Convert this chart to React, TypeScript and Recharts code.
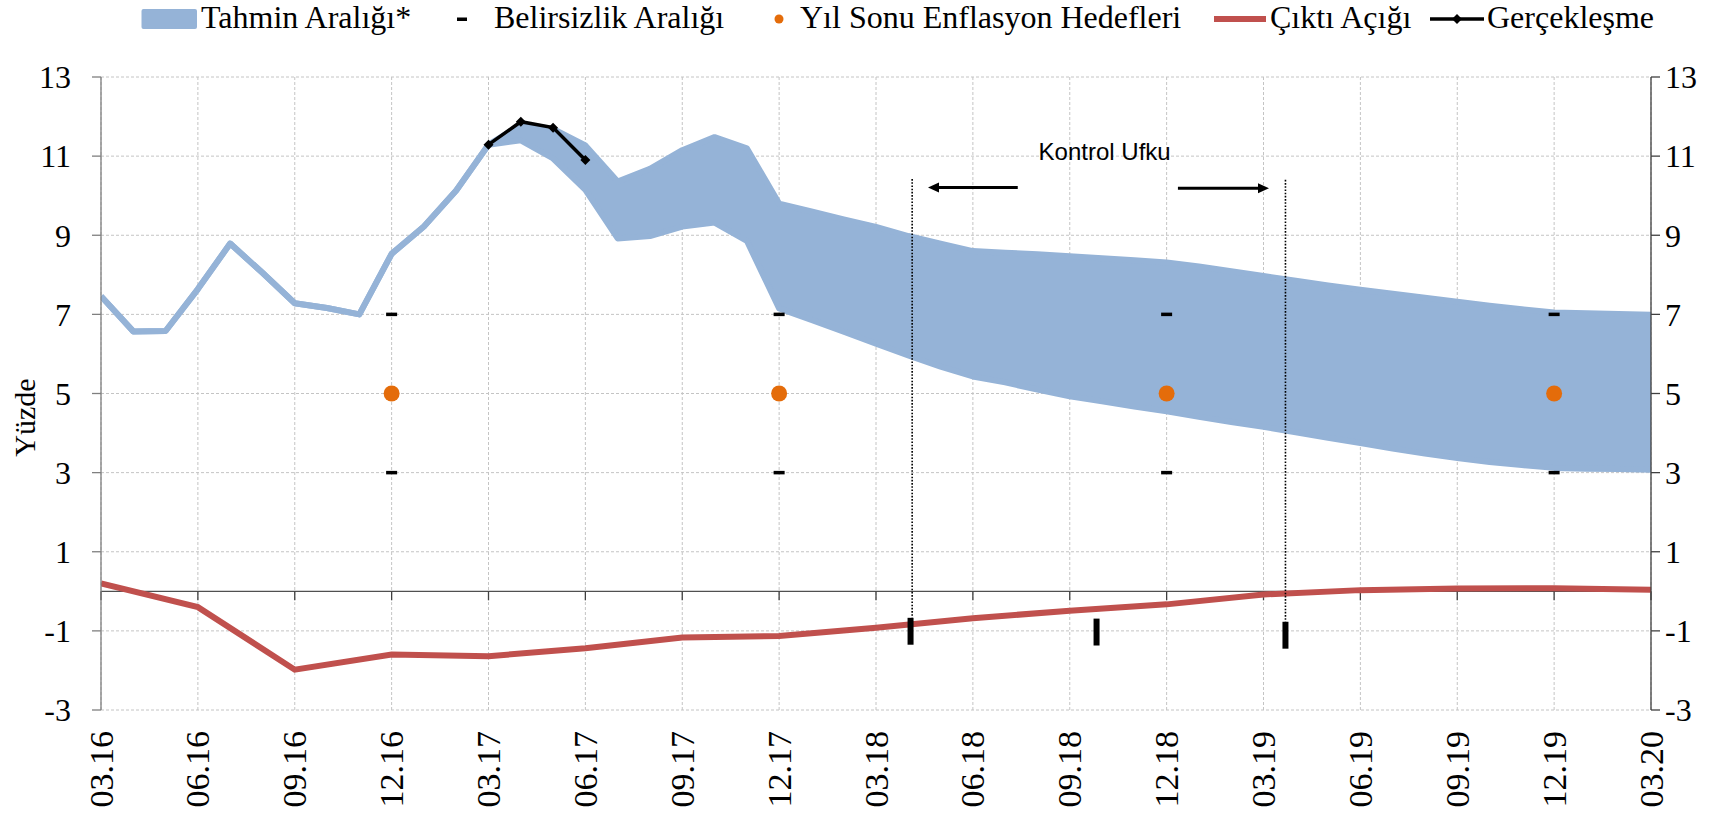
import React from 'react';
import {
  ComposedChart, Area, Line, Scatter, XAxis, YAxis, CartesianGrid,
  ReferenceLine, ReferenceDot, Legend,
} from 'recharts';

// ---------- categories ----------
const months = [
  '03.16','04.16','05.16','06.16','07.16','08.16','09.16','10.16','11.16','12.16',
  '01.17','02.17','03.17','04.17','05.17','06.17','07.17','08.17','09.17','10.17','11.17','12.17',
  '01.18','02.18','03.18','04.18','05.18','06.18','07.18','08.18','09.18','10.18','11.18','12.18',
  '01.19','02.19','03.19','04.19','05.19','06.19','07.19','08.19','09.19','10.19','11.19','12.19',
  '01.20','02.20','03.20',
];
const xTickMonths = [
  '03.16','06.16','09.16','12.16','03.17','06.17','09.17','12.17',
  '03.18','06.18','09.18','12.18','03.19','06.19','09.19','12.19','03.20',
];
const yTicks = [-3, -1, 1, 3, 5, 7, 9, 11, 13];

// ---------- series ----------
const bandLow = [
  7.46, 6.57, 6.58, 7.64, 8.79, 8.05, 7.28, 7.16, 7.00, 8.53,
  9.22, 10.13, 11.29, 11.40, 10.94, 10.15, 8.92, 8.98, 9.22, 9.32, 8.86, 7.15,
  6.86, 6.56, 6.26, 5.96, 5.68, 5.43, 5.28, 5.10, 4.93, 4.80, 4.67, 4.55,
  4.41, 4.28, 4.16, 4.02, 3.88, 3.75, 3.61, 3.48, 3.37, 3.27, 3.19, 3.12,
  3.10, 3.09, 3.07,
];
const bandHigh = [
  7.46, 6.57, 6.58, 7.64, 8.79, 8.05, 7.28, 7.16, 7.00, 8.53,
  9.22, 10.13, 11.29, 11.78, 11.69, 11.27, 10.36, 10.68, 11.15, 11.48, 11.20, 9.80,
  9.60, 9.40, 9.21, 8.98, 8.79, 8.60, 8.56, 8.52, 8.47, 8.42, 8.37, 8.31,
  8.21, 8.09, 7.97, 7.85, 7.73, 7.62, 7.52, 7.42, 7.32, 7.22, 7.13, 7.05,
  7.03, 7.01, 6.99,
];
const actualMonths = ['03.17', '04.17', '05.17', '06.17'];
const actualValues = [11.29, 11.87, 11.72, 10.90];
const outputGapMonths = xTickMonths;
const outputGapValues = [
  0.20, -0.40, -1.98, -1.60, -1.64, -1.44, -1.17, -1.13,
  -0.92, -0.68, -0.49, -0.33, -0.08, 0.03, 0.07, 0.08, 0.04,
];
const targetMonths = ['12.16', '12.17', '12.18', '12.19'];
const targetValues = [5, 5, 5, 5];
const uncertaintyUpper = [7, 7, 7, 7];
const uncertaintyLower = [3, 3, 3, 3];

// ---------- annotations (in data units: month index / percent) ----------
const horizonLines = [
  { x: 25.12, top: 10.42, bottom: -0.67 },
  { x: 36.68, top: 10.40, bottom: -0.77 },
];
const horizonMarkers = [
  { x: 25.07, top: -0.67, bottom: -1.35 },
  { x: 30.83, top: -0.69, bottom: -1.37 },
  { x: 36.68, top: -0.77, bottom: -1.45 },
];
const horizonArrows = [
  { from: 28.39, to: 25.61, y: 10.21 },
  { from: 33.35, to: 36.17, y: 10.19 },
];
const horizonLabel = { text: 'Kontrol Ufku', x: 31.08, y: 10.89 };

// ---------- styles ----------
const BLUE = '#95B3D7';
const RED = '#C0504D';
const ORANGE = '#E46C0A';
const SERIF = '"Liberation Serif", "Times New Roman", serif';
const SANS = '"Liberation Sans", Arial, sans-serif';

const idx = (m: string) => months.indexOf(m);

const rows = months.map((m, i) => {
  const a = actualMonths.indexOf(m);
  const g = outputGapMonths.indexOf(m);
  return {
    i,
    band: [bandLow[i], bandHigh[i]],
    actual: a >= 0 ? actualValues[a] : null,
    gap: g >= 0 ? outputGapValues[g] : null,
  };
});
const targetData = targetMonths.map((m, k) => ({ i: idx(m), v: targetValues[k] }));
const uncertaintyData = [
  ...targetMonths.map((m, k) => ({ i: idx(m), v: uncertaintyUpper[k] })),
  ...targetMonths.map((m, k) => ({ i: idx(m), v: uncertaintyLower[k] })),
];
const quarterIdx = xTickMonths.map(idx);

const XTick = (props: any) => {
  const { x, y, payload } = props;
  return (
    <text
      transform={`translate(${x},${y + 21}) rotate(-90)`}
      textAnchor="end"
      dominantBaseline="central"
      fontSize={34}
      fontFamily={SERIF}
      fill="#000"
    >
      {months[payload.value]}
    </text>
  );
};

const YLabel = (props: any) => {
  const vb = props.viewBox || { x: 0, y: 77, width: 101, height: 633 };
  return (
    <text
      transform={`translate(35,${vb.y + vb.height / 2 + 24}) rotate(-90)`}
      textAnchor="middle"
      fontSize={30}
      fontFamily={SERIF}
      fill="#000"
    >
      Yüzde
    </text>
  );
};

const ArrowShape = (p: any) => {
  const { x1, y1, x2, y2 } = p;
  const dx = x2 - x1;
  const dy = y2 - y1;
  const len = Math.hypot(dx, dy) || 1;
  const ux = dx / len;
  const uy = dy / len;
  const head = 11;
  const half = 5;
  const bx = x2 - ux * head;
  const by = y2 - uy * head;
  return (
    <g>
      <line x1={x1} y1={y1} x2={bx + ux} y2={by + uy} stroke="#000" strokeWidth={3} />
      <polygon
        points={`${x2},${y2} ${bx - uy * half},${by + ux * half} ${bx + uy * half},${by - ux * half}`}
        fill="#000"
      />
    </g>
  );
};

const ZeroTick = (p: any) => (
  <line x1={p.x1} y1={p.y1} x2={p.x1} y2={p.y1 + 9} stroke="#404040" strokeWidth={1.3} />
);

const Diamond = (p: any) => {
  const { cx, cy } = p;
  if (cx == null || cy == null || p.value == null) return <g />;
  const s = 5;
  return <polygon points={`${cx},${cy - s} ${cx + s},${cy} ${cx},${cy + s} ${cx - s},${cy}`} fill="#000" />;
};

const TargetDot = (p: any) => <circle cx={p.cx} cy={p.cy} r={8} fill={ORANGE} />;
const UncDash = (p: any) => <rect x={p.cx - 5.5} y={p.cy - 1.75} width={11} height={3.5} fill="#000" />;

const LegendContent = () => {
  const t = { fontSize: 32, fontFamily: SERIF, fill: '#000' };
  return (
    <svg width={1734} height={45} style={{ display: 'block' }}>
      <rect x={141.5} y={9} width={55.5} height={20} rx={2} fill={BLUE} />
      <text x={201} y={28} {...t}>Tahmin Aralığı*</text>
      <rect x={457} y={17.5} width={10} height={3.5} fill="#000" />
      <text x={494} y={28} {...t}>Belirsizlik Aralığı</text>
      <circle cx={779} cy={19} r={4.5} fill={ORANGE} />
      <text x={800} y={28} {...t}>Yıl Sonu Enflasyon Hedefleri</text>
      <line x1={1214} y1={19} x2={1266} y2={19} stroke={RED} strokeWidth={6} />
      <text x={1270} y={28} {...t}>Çıktı Açığı</text>
      <line x1={1430} y1={19} x2={1484} y2={19} stroke="#000" strokeWidth={3.5} />
      <polygon points="1457,14 1462,19 1457,24 1452,19" fill="#000" />
      <text x={1487} y={28} {...t}>Gerçekleşme</text>
    </svg>
  );
};

export default function App() {
  return (
    <div style={{ position: 'absolute', left: 0, top: 0, background: '#fff' }}>
      <ComposedChart
        width={1734}
        height={813}
        data={rows}
        margin={{ top: 32, right: 0, bottom: 0, left: 0 }}
      >
        <Legend
          verticalAlign="top"
          align="left"
          height={45}
          wrapperStyle={{ top: 0, left: 0, width: 1734, height: 45 }}
          content={() => <LegendContent />}
        />
        <CartesianGrid
          yAxisId="left"
          stroke="#c4c4c4"
          strokeDasharray="3 2"
          strokeWidth={1}
        />
        <XAxis
          type="number"
          dataKey="i"
          domain={[0, 48]}
          ticks={quarterIdx}
          interval={0}
          height={103}
          tickSize={0}
          tickMargin={0}
          axisLine={false}
          tickLine={false}
          tick={<XTick />}
          allowDataOverflow
        />
        <YAxis
          yAxisId="left"
          domain={[-3, 13]}
          ticks={yTicks}
          interval={0}
          width={101}
          tickSize={9}
          tickMargin={21}
          axisLine={{ stroke: '#7f7f7f', strokeWidth: 1.3 }}
          tickLine={{ stroke: '#7f7f7f', strokeWidth: 1.3 }}
          tick={{ fontSize: 32, fontFamily: SERIF, fill: '#000' }}
          tickFormatter={(v: number) => String(v)}
          allowDataOverflow
          label={<YLabel />}
        />
        <YAxis
          yAxisId="right"
          orientation="right"
          domain={[-3, 13]}
          ticks={yTicks}
          interval={0}
          width={83}
          tickSize={9}
          tickMargin={5}
          axisLine={{ stroke: '#404040', strokeWidth: 1.3 }}
          tickLine={{ stroke: '#404040', strokeWidth: 1.3 }}
          tick={{ fontSize: 32, fontFamily: SERIF, fill: '#000' }}
          tickFormatter={(v: number) => String(v)}
          allowDataOverflow
        />

        <Area
          yAxisId="left"
          type="linear"
          dataKey="band"
          fill={BLUE}
          fillOpacity={1}
          stroke={BLUE}
          strokeWidth={6}
          strokeLinejoin="round"
          isAnimationActive={false}
          legendType="none"
        />

        <ReferenceLine yAxisId="left" y={0} stroke="#505050" strokeWidth={1.3} />
        {quarterIdx.map((q) => (
          <ReferenceLine
            key={`zt${q}`}
            yAxisId="left"
            segment={[{ x: q, y: 0 }, { x: q, y: -0.2 }]}
            shape={<ZeroTick />}
          />
        ))}

        <Line
          yAxisId="left"
          type="linear"
          dataKey="gap"
          stroke={RED}
          strokeWidth={6}
          dot={false}
          connectNulls
          isAnimationActive={false}
        />

        <Scatter
          yAxisId="left"
          data={uncertaintyData}
          dataKey="v"
          shape={<UncDash />}
          isAnimationActive={false}
        />
        <Scatter
          yAxisId="left"
          data={targetData}
          dataKey="v"
          shape={<TargetDot />}
          isAnimationActive={false}
        />

        <Line
          yAxisId="left"
          type="linear"
          dataKey="actual"
          stroke="#000"
          strokeWidth={3.5}
          dot={<Diamond />}
          activeDot={false}
          isAnimationActive={false}
        />

        {horizonLines.map((h, k) => (
          <ReferenceLine
            key={`hl${k}`}
            yAxisId="left"
            segment={[{ x: h.x, y: h.top }, { x: h.x, y: h.bottom }]}
            stroke="#000"
            strokeWidth={1.6}
            strokeDasharray="1.6 1.6"
          />
        ))}
        {horizonMarkers.map((h, k) => (
          <ReferenceLine
            key={`hm${k}`}
            yAxisId="left"
            segment={[{ x: h.x, y: h.top }, { x: h.x, y: h.bottom }]}
            stroke="#000"
            strokeWidth={6}
          />
        ))}
        {horizonArrows.map((a, k) => (
          <ReferenceLine
            key={`ha${k}`}
            yAxisId="left"
            segment={[{ x: a.from, y: a.y }, { x: a.to, y: a.y }]}
            shape={<ArrowShape />}
          />
        ))}
        <ReferenceDot
          yAxisId="left"
          x={horizonLabel.x}
          y={horizonLabel.y}
          r={0}
          shape={(p: any) => (
            <text x={p.cx} y={p.cy} textAnchor="middle" fontSize={24} fontFamily={SANS} fill="#000">
              {horizonLabel.text}
            </text>
          )}
        />
      </ComposedChart>
    </div>
  );
}
